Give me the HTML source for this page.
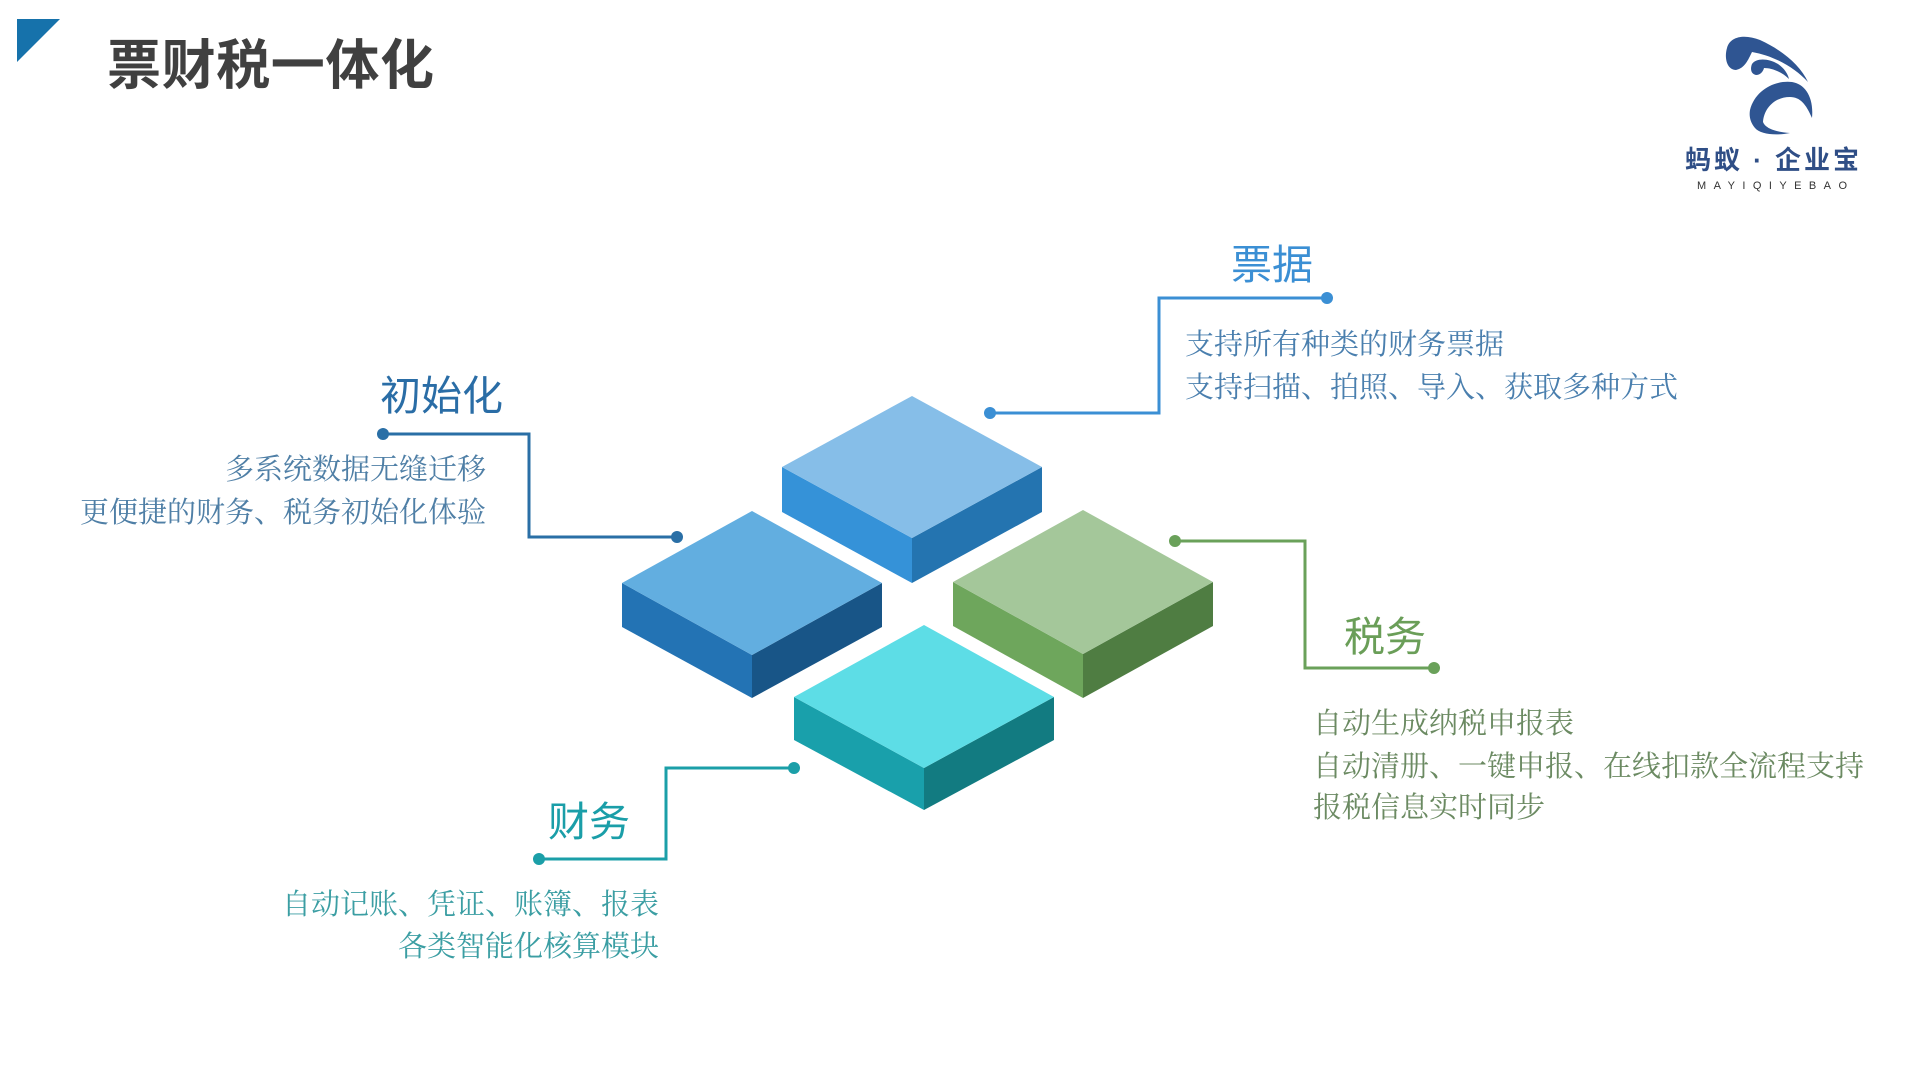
<!DOCTYPE html>
<html><head><meta charset="utf-8"><style>
html,body{margin:0;padding:0;background:#fff;}
svg{display:block;}
.b{font-family:"Liberation Serif","Noto Serif CJK SC",serif;font-size:29px;}
.t{font-family:"Liberation Sans","Noto Sans CJK SC",sans-serif;font-size:41px;}
</style></head><body>
<svg width="1920" height="1080" viewBox="0 0 1920 1080" xmlns="http://www.w3.org/2000/svg">
<rect width="1920" height="1080" fill="#fff"/>
<polygon points="17,19 60,19 17,62" fill="#1672ab"/>
<text x="107" y="84" font-family="Liberation Sans,Noto Sans CJK SC,sans-serif" font-size="54" font-weight="bold" fill="#404040" textLength="327">票财税一体化</text>

<!-- logo -->
<g fill="#2f5592">
<path d="M1727,48 C1730,36 1745,34 1760,40 C1782,50 1800,65 1808,82 C1795,68 1775,56 1752,52 C1748,60 1745,68 1736,70 C1727,70 1724,58 1727,48Z"/>
<path d="M1752,64 C1756,58 1768,58 1778,64 C1784,68 1788,74 1789,79 C1782,72 1772,68 1764,68 C1763,72 1760,75 1756,75 C1751,74 1750,69 1752,64Z"/>
<path d="M1750,110 C1755,90 1775,80 1792,82 C1805,84 1814,97 1812,118 C1806,104 1800,97 1790,97 C1775,97 1764,108 1763,122 C1765,128 1775,132 1790,133 C1775,136 1760,134 1755,128 C1750,122 1749,116 1750,110Z"/>
</g>
<text x="1685" y="169" font-family="Liberation Sans,Noto Sans CJK SC,sans-serif" font-size="26" font-weight="bold" fill="#2f4e86" textLength="174">蚂蚁 · 企业宝</text>
<text x="1697" y="189" font-family="Liberation Sans,sans-serif" font-size="11" fill="#333" textLength="150" lengthAdjust="spacing">MAYIQIYEBAO</text>

<g>
<polygon points="782,467 912,538 912,583 782,512" fill="#3592d8"/>
<polygon points="912,538 1042,467 1042,512 912,583" fill="#2474b0"/>
<polygon points="912,396 1042,467 912,538 782,467" fill="#86bee8"/>
</g>
<g>
<polygon points="622,583 752,655 752,698 622,627" fill="#2373b4"/>
<polygon points="752,655 882,583 882,627 752,698" fill="#185587"/>
<polygon points="752,511 882,583 752,655 622,583" fill="#62aee0"/>
</g>
<g>
<polygon points="953,582 1083,654 1083,698 953,626" fill="#6ea65c"/>
<polygon points="1083,654 1213,582 1213,626 1083,698" fill="#4f7d42"/>
<polygon points="1083,510 1213,582 1083,654 953,582" fill="#a4c79a"/>
</g>
<g>
<polygon points="794,697 924,768 924,810 794,740" fill="#19a0ab"/>
<polygon points="924,768 1054,697 1054,740 924,810" fill="#127b81"/>
<polygon points="924,625 1054,697 924,768 794,697" fill="#5ddde6"/>
</g>

<g fill="none" stroke-width="3">
<polyline points="990,413 1159,413 1159,298 1327,298" stroke="#3b8fd4"/>
<polyline points="383,434 529,434 529,537 677,537" stroke="#2a6fa6"/>
<polyline points="1175,541 1305,541 1305,668 1434,668" stroke="#6aa15a"/>
<polyline points="794,768 666,768 666,859 539,859" stroke="#1b9fa8"/>
</g>
<circle cx="990" cy="413" r="6" fill="#3b8fd4"/><circle cx="1327" cy="298" r="6" fill="#3b8fd4"/>
<circle cx="383" cy="434" r="6" fill="#2a6fa6"/><circle cx="677" cy="537" r="6" fill="#2a6fa6"/>
<circle cx="1175" cy="541" r="6" fill="#6aa15a"/><circle cx="1434" cy="668" r="6" fill="#6aa15a"/>
<circle cx="794" cy="768" r="6" fill="#1b9fa8"/><circle cx="539" cy="859" r="6" fill="#1b9fa8"/>

<text class="t" x="1231" y="279" fill="#3b8fd4">票据</text>
<text class="b" x="1185" y="354" fill="#4a7fae">支持所有种类的财务票据</text>
<text class="b" x="1185" y="397" fill="#4a7fae">支持扫描、拍照、导入、获取多种方式</text>

<text class="t" x="380" y="410" fill="#2a6da6">初始化</text>
<text class="b" x="486" y="479" text-anchor="end" fill="#4f7fa6">多系统数据无缝迁移</text>
<text class="b" x="486" y="522" text-anchor="end" fill="#4f7fa6">更便捷的财务、税务初始化体验</text>

<text class="t" x="1344" y="651" fill="#6a9e58">税务</text>
<text class="b" x="1313" y="733" fill="#6b8a62">自动生成纳税申报表</text>
<text class="b" x="1313" y="776" fill="#6b8a62">自动清册、一键申报、在线扣款全流程支持</text>
<text class="b" x="1313" y="817" fill="#6b8a62">报税信息实时同步</text>

<text class="t" x="548" y="836" fill="#1a9ea8">财务</text>
<text class="b" x="659" y="914" text-anchor="end" fill="#3b9ea3">自动记账、凭证、账簿、报表</text>
<text class="b" x="659" y="956" text-anchor="end" fill="#3b9ea3">各类智能化核算模块</text>
</svg>
</body></html>
